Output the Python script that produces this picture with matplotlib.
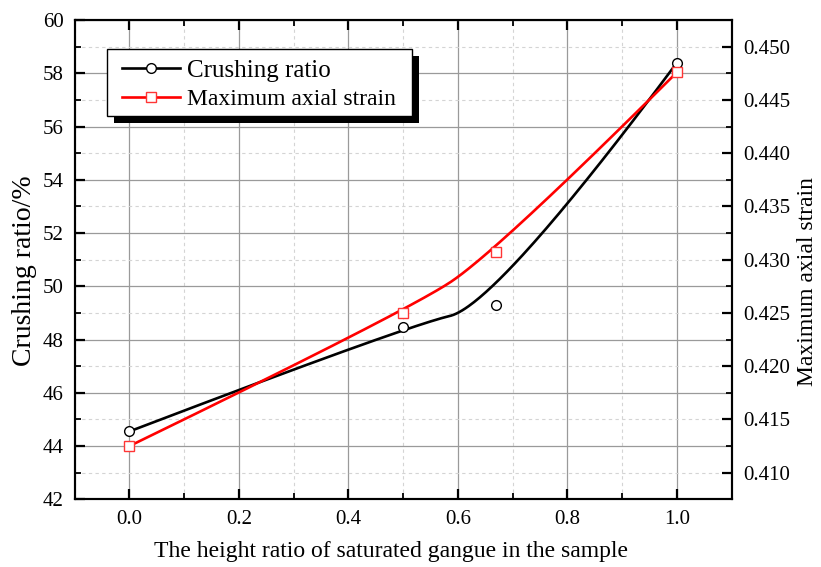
import matplotlib.pyplot as plt
import matplotlib as mpl
from matplotlib.patches import Rectangle
from matplotlib.lines import Line2D
import numpy as np

#%% data
height_ratio = [0.0, 0.5, 0.67, 1.0]
crushing_ratio = [44.55, 48.47, 49.30, 58.40]
axial_strain = [0.4125, 0.4250, 0.4307, 0.4476]

x_ticks = [0.0, 0.2, 0.4, 0.6, 0.8, 1.0]
left_ticks = [42, 44, 46, 48, 50, 52, 54, 56, 58, 60]
right_ticks = [0.410, 0.415, 0.420, 0.425, 0.430, 0.435, 0.440, 0.445, 0.450]

plt.rcParams['font.family'] = ['Liberation Serif', 'DejaVu Serif']


def bspline_q(xs, ys, n=80):
    '''
    Quadratic clamped B-spline using the points as control points
    (the "B-Spline" line connection of the original plot)
    '''
    p = np.column_stack([xs, ys])
    k = len(p)
    mids = [(p[i] + p[i + 1]) / 2 for i in range(1, k - 2)]
    starts = [p[0]] + mids
    ends = mids + [p[-1]]
    ctrl = p[1:-1]
    t = np.linspace(0, 1, n)[:, None]
    segs = [(1 - t)**2 * a + 2 * t * (1 - t) * c + t**2 * b for a, c, b in zip(starts, ctrl, ends)]
    out = np.vstack(segs)
    return out[:, 0], out[:, 1]


#%% plot
fig = plt.figure(figsize=(8.21, 5.67), dpi=100)
ax = fig.add_axes([0.091, 0.1194, 0.8003, 0.8453])
ax2 = ax.twinx()

tick_fs = 15
ax.set_xlim(-0.1, 1.1)
ax.set_ylim(42, 60)
ax2.set_ylim(0.4075, 0.4525)

ax.set_xticks(x_ticks)
ax.set_xticklabels(['{:.1f}'.format(v) for v in x_ticks])
ax.set_yticks(left_ticks)
ax.set_yticklabels(['{:d}'.format(v) for v in left_ticks])
ax2.set_yticks(right_ticks)
ax2.set_yticklabels(['{:.3f}'.format(v) for v in right_ticks])
ax.xaxis.set_minor_locator(mpl.ticker.MultipleLocator(0.1))
ax.yaxis.set_minor_locator(mpl.ticker.MultipleLocator(1))
ax2.yaxis.set_minor_locator(mpl.ticker.MultipleLocator(0.0025))

ax.tick_params(which='both', direction='in', top=True, bottom=True, left=True, right=False,
               labelsize=tick_fs, pad=8)
ax.tick_params(which='major', length=7, width=1.6)
ax.tick_params(which='minor', length=4, width=1.3)
ax2.tick_params(which='both', direction='in', labelsize=tick_fs, pad=8)
ax2.tick_params(which='major', length=7, width=1.6)
ax2.tick_params(which='minor', length=4, width=1.3)

for a in (ax, ax2):
    for sp in a.spines.values():
        sp.set_linewidth(1.5)

ax.grid(which='major', color='#9a9a9a', lw=0.9, ls='-')
ax.grid(which='minor', color='#d4d4d4', lw=0.8, ls=(0, (3, 3)))
ax.set_axisbelow(True)

# curves
cx, cy = bspline_q(height_ratio, crushing_ratio)
ax.plot(cx, cy, color='black', lw=1.9, zorder=3)
ax.plot(height_ratio, crushing_ratio, ls='none', marker='o', ms=7, mfc='white', mec='black',
        mew=1.0, zorder=4, clip_on=False)

sx, sy = bspline_q(height_ratio, axial_strain)
ax2.plot(sx, sy, color='red', lw=1.9, zorder=3)
ax2.plot(height_ratio, axial_strain, ls='none', marker='s', ms=6.5, mfc='white', mec='#ff3535',
         mew=1.0, zorder=4, clip_on=False)

ax.set_xlabel('The height ratio of saturated gangue in the sample', fontsize=17)
ax.xaxis.set_label_coords(0.482, -0.088)
ax.set_ylabel('Crushing ratio/%', fontsize=20)
ax.yaxis.set_label_coords(-0.058, 0.476)
ax2.set_ylabel('Maximum axial strain', fontsize=17)
ax2.yaxis.set_label_coords(1.099, 0.455)

# legend: plain black frame with a solid black drop shadow
frame_x0, frame_y0, frame_w, frame_h = 0.0496, 0.7987, 0.4633, 0.1402
ax2.add_patch(Rectangle((frame_x0 + 0.0107, frame_y0 - 0.0146), frame_w, frame_h,
                        transform=ax2.transAxes, facecolor='black', edgecolor='none',
                        zorder=8, clip_on=False))
ax2.add_patch(Rectangle((frame_x0, frame_y0), frame_w, frame_h, transform=ax2.transAxes,
                        facecolor='white', edgecolor='black', lw=1.0, zorder=9, clip_on=False))

h1 = Line2D([], [], color='black', lw=1.9, marker='o', ms=7, mfc='white', mec='black', mew=1.0)
h2 = Line2D([], [], color='red', lw=1.9, marker='s', ms=6.5, mfc='white', mec='#ff3535', mew=1.0)
leg = ax2.legend([h1, h2], ['Crushing ratio', 'Maximum axial strain'], loc='center left',
                 bbox_to_anchor=(0.0715, 0.8647), borderaxespad=0, frameon=False,
                 numpoints=1, handlelength=2.46, handletextpad=0.3, borderpad=0,
                 labelspacing=0.3, prop={'size': 17})
leg.get_texts()[0].set_fontsize(18)
leg.set_zorder(10)

plt.savefig('out.png', dpi=100)
plt.close()
